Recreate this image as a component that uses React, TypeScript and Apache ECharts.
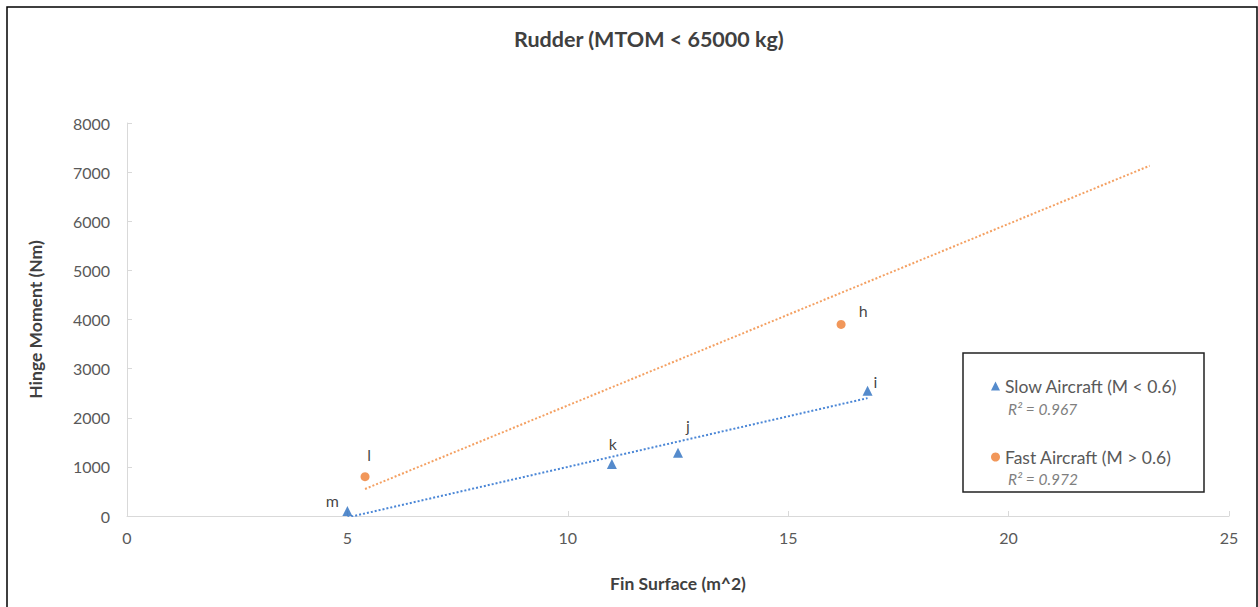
import React, { useEffect, useRef } from "react";
import * as echarts from "echarts";

// ---- data ----
const slowNames = ["m", "k", "j", "i"];
const slowX = [5.0, 11.0, 12.5, 16.8];
const slowY = [100, 1060, 1290, 2550];

const fastNames = ["l", "h"];
const fastX = [5.4, 16.2];
const fastY = [800, 3900];

const slowTrendX = [5.0, 16.8];
const slowTrendY = [-30, 2400];
const fastTrendX = [5.4, 23.2];
const fastTrendY = [550, 7130];

const seriesNames = ["Slow Aircraft (M < 0.6)", "Fast Aircraft (M > 0.6)"];
const rSquared = ["0.967", "0.972"];

const xTicks = { min: 0, max: 25, interval: 5 };
const yTicks = { min: 0, max: 8000, interval: 1000 };

// label placement (style, kept apart from values), relative to the point centre
const labelOffsets: Record<string, [number, number]> = {
  m: [-15, -11],
  k: [1, -20],
  j: [10, -27],
  i: [8, -9],
  l: [4, -22],
  h: [22, -14],
};

const BLUE = "#2a6ebf";
const ORANGE = "#ED7D31";
const FONT = "Lato, 'Open Sans', sans-serif";

export default function App() {
  const ref = useRef<HTMLDivElement>(null);

  useEffect(() => {
    document.body.style.margin = "0";
    if (!ref.current) return;
    const chart = echarts.init(ref.current, null, { renderer: "svg" });

    const mkPoints = (names: string[], xs: number[], ys: number[], size: number) =>
      xs.map((x, i) => {
        const o = labelOffsets[names[i]];
        return {
          value: [x, ys[i]],
          name: names[i],
          label: { offset: [o[0], o[1] + size / 2 + 8] },
        };
      });

    const pointLabel = {
      show: true,
      position: "top",
      distance: 0,
      formatter: (p: any) => p.name,
      color: "#111111",
      fontSize: 16,
      fontFamily: FONT,
    };

    const axisNameStyle = { fontSize: 17.5, fontWeight: "bold", color: "#404040", fontFamily: FONT };

    chart.setOption({
      animation: false,
      textStyle: { fontFamily: FONT },
      title: {
        text: "Rudder (MTOM < 65000 kg)",
        left: 509,
        top: 23,
        textStyle: { fontSize: 21.5, fontWeight: "bold", color: "#404040", fontFamily: FONT },
      },
      grid: { left: 127, right: 29, top: 123, bottom: 91 },
      legend: {
        orient: "vertical",
        left: 986,
        top: 372,
        itemGap: 53,
        itemWidth: 9,
        itemHeight: 9,
        data: [
          { name: seriesNames[0], icon: "triangle" },
          { name: seriesNames[1], icon: "circle" },
        ],
        textStyle: { fontSize: 17.5, color: "#595959", fontFamily: FONT },
      },
      xAxis: {
        type: "value",
        min: xTicks.min,
        max: xTicks.max,
        interval: xTicks.interval,
        name: "Fin Surface (m^2)",
        nameLocation: "middle",
        nameGap: 58,
        nameTextStyle: axisNameStyle,
        axisLine: { lineStyle: { color: "#d9d9d9" } },
        axisTick: { show: true, inside: true, length: 5, lineStyle: { color: "#d9d9d9" } },
        splitLine: { show: false },
        axisLabel: { fontSize: 16, color: "#595959", margin: 13, fontFamily: FONT },
      },
      yAxis: {
        type: "value",
        min: yTicks.min,
        max: yTicks.max,
        interval: yTicks.interval,
        name: "Hinge Moment (Nm)",
        nameLocation: "middle",
        nameGap: 83,
        nameTextStyle: axisNameStyle,
        axisLine: { show: true, lineStyle: { color: "#d9d9d9" } },
        axisTick: { show: true, inside: true, length: 5, lineStyle: { color: "#d9d9d9" } },
        splitLine: { show: false },
        axisLabel: {
          fontSize: 16,
          color: "#595959",
          margin: 17,
          fontFamily: FONT,
          formatter: (v: number) => String(v),
        },
      },
      series: [
        {
          name: seriesNames[0] + " trend",
          type: "line",
          data: slowTrendX.map((x, i) => [x, slowTrendY[i]]),
          showSymbol: false,
          symbol: "none",
          lineStyle: { color: "#4a86d6", width: 2, type: [2, 2] },
          z: 1,
          silent: true,
        },
        {
          name: seriesNames[1] + " trend",
          type: "line",
          data: fastTrendX.map((x, i) => [x, fastTrendY[i]]),
          showSymbol: false,
          symbol: "none",
          lineStyle: { color: "#f4a062", width: 2, type: [2, 2] },
          z: 1,
          silent: true,
        },
        {
          name: seriesNames[0],
          type: "scatter",
          symbol: "triangle",
          symbolSize: 10,
          itemStyle: { color: BLUE },
          data: mkPoints(slowNames, slowX, slowY, 10),
          label: pointLabel,
          z: 3,
        },
        {
          name: seriesNames[1],
          type: "scatter",
          symbol: "circle",
          symbolSize: 9,
          itemStyle: { color: ORANGE },
          data: mkPoints(fastNames, fastX, fastY, 9),
          label: pointLabel,
          z: 3,
        },
      ],
      graphic: [
        {
          type: "rect",
          shape: { x: 7, y: 7, width: 1250, height: 620 },
          style: { fill: "none", stroke: "#000", lineWidth: 1.5 },
          silent: true,
        },
        {
          type: "rect",
          z: -1,
          shape: { x: 963, y: 353, width: 241, height: 139 },
          style: { fill: "#fff", stroke: "#222", lineWidth: 1.5 },
          silent: true,
        },
        {
          type: "text",
          x: 1008,
          y: 401,
          style: {
            text: "R² = " + rSquared[0],
            fontSize: 15.5,
            fontStyle: "italic",
            fill: "#7f7f7f",
            fontFamily: FONT,
          },
        },
        {
          type: "text",
          x: 1008,
          y: 471,
          style: {
            text: "R² = " + rSquared[1],
            fontSize: 15.5,
            fontStyle: "italic",
            fill: "#7f7f7f",
            fontFamily: FONT,
          },
        },
      ],
    });

    return () => chart.dispose();
  }, []);

  return <div ref={ref} style={{ width: 1258, height: 607 }} />;
}
